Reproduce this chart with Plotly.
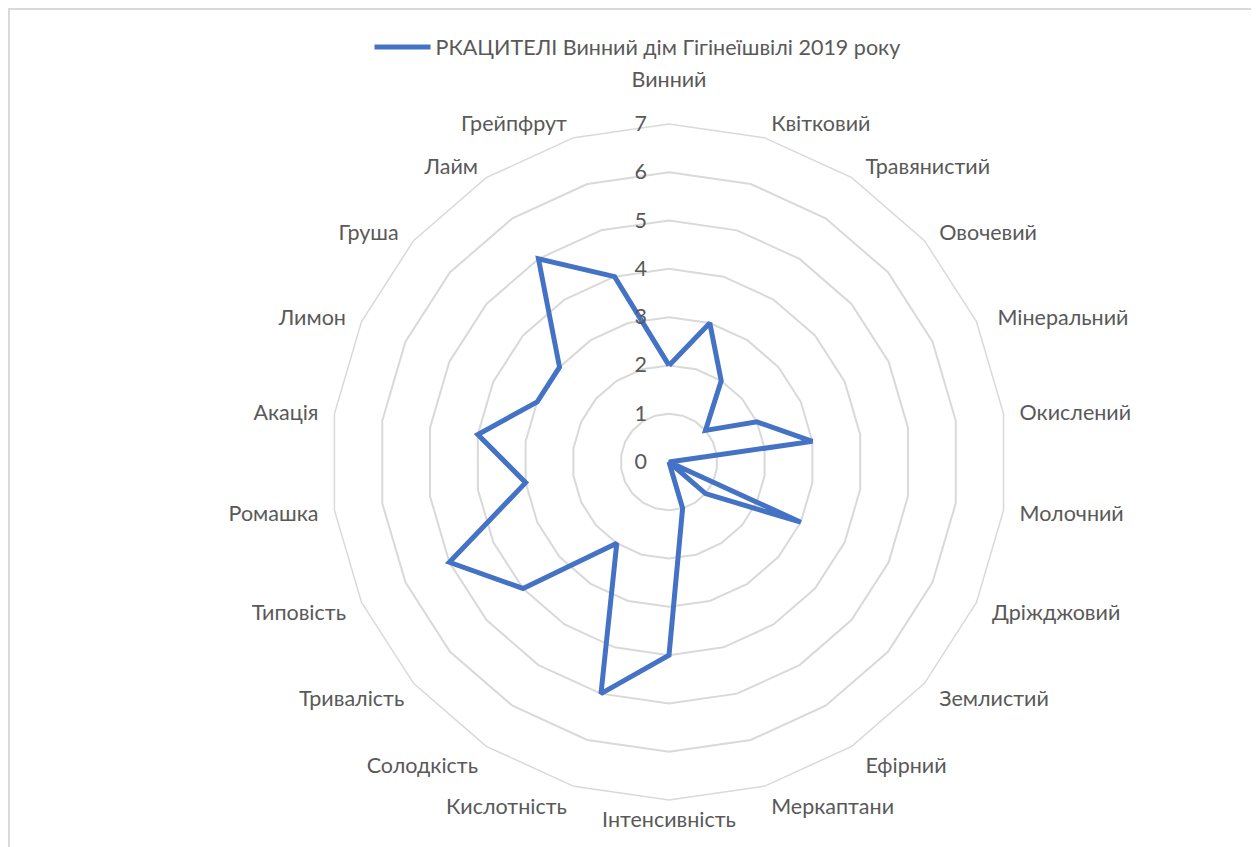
import plotly.graph_objects as go

categories = ["Винний", "Квітковий", "Травянистий", "Овочевий", "Мінеральний", "Окислений",
              "Молочний", "Дріжджовий", "Землистий", "Ефірний", "Меркаптани", "Інтенсивність",
              "Кислотність", "Солодкість", "Тривалість", "Типовість", "Ромашка", "Акація",
              "Лимон", "Груша", "Лайм", "Грейпфрут"]
values = [2, 3, 2, 1, 2, 3, 0, 3, 1, 0, 1, 4, 5, 2, 4, 5, 3, 4, 3, 3, 5, 4]
series_name = "РКАЦИТЕЛІ Винний дім Гігінеїшвілі 2019 року"
radial_ticks = [0, 1, 2, 3, 4, 5, 6, 7]

# label padding (number of no-break spaces on the outer side of each category label)
label_pad = [0, 1, 2, 2, 3, 2, 2, 2, 2, 2, 1, 0, 1, 1, 1, 2, 2, 2, 2, 2, 1, 1]

W, H = 1259, 847
# page has an 8px body margin; positions below are in figure pixels
cx, cy, R = 661, 454, 338

n = len(categories)
tick_text = []
for i, (c, p) in enumerate(zip(categories, label_pad)):
    sp = "\u00a0" * p
    if i == 0:
        tick_text.append(c + "<br>\u00a0")  # lift the top label clear of the radial ticks
    elif 0 < i < n / 2:
        tick_text.append(sp + c)
    elif i > n / 2:
        tick_text.append(c + sp)
    else:
        tick_text.append(c)

fig = go.Figure()
fig.add_trace(go.Scatterpolar(
    r=values + values[:1],
    theta=categories + categories[:1],
    mode="lines",
    name=series_name,
    line=dict(color="#4472C4", width=5),
))

font_family = "Lato, 'Open Sans', sans-serif"
fs = 21.5
fig.update_layout(
    width=W, height=H,
    margin=dict(l=0, r=0, t=0, b=0),
    paper_bgcolor="white",
    plot_bgcolor="white",
    font=dict(family=font_family, color="#595959", size=fs),
    showlegend=True,
    legend=dict(orientation="h", x=0.5, xanchor="center", y=1 - 39 / H, yanchor="middle",
                itemwidth=56, font=dict(size=fs, color="#595959")),
    polar=dict(
        domain=dict(x=[(cx - R) / W, (cx + R) / W], y=[1 - (cy + R) / H, 1 - (cy - R) / H]),
        gridshape="linear",
        bgcolor="white",
        radialaxis=dict(range=[0, 7], tickvals=radial_ticks, angle=90, tickangle=90,
                        showline=False, ticks="outside", ticklen=14, tickcolor="rgba(0,0,0,0)",
                        gridcolor="#D9D9D9", gridwidth=1.5,
                        tickfont=dict(size=fs, color="#595959"), side="counterclockwise"),
        angularaxis=dict(direction="clockwise", rotation=90, showgrid=False,
                         showline=True, linecolor="#D9D9D9", linewidth=1.5,
                         ticks="", tickvals=categories, ticktext=tick_text,
                         tickfont=dict(size=fs, color="#595959")),
    ),
    shapes=[dict(type="rect", xref="paper", yref="paper",
                 x0=1 / W, x1=1.02, y0=-0.02, y1=1 - 1 / H,
                 line=dict(color="#D9D9D9", width=2), fillcolor="rgba(0,0,0,0)")],
)

fig.write_html("out.html")
